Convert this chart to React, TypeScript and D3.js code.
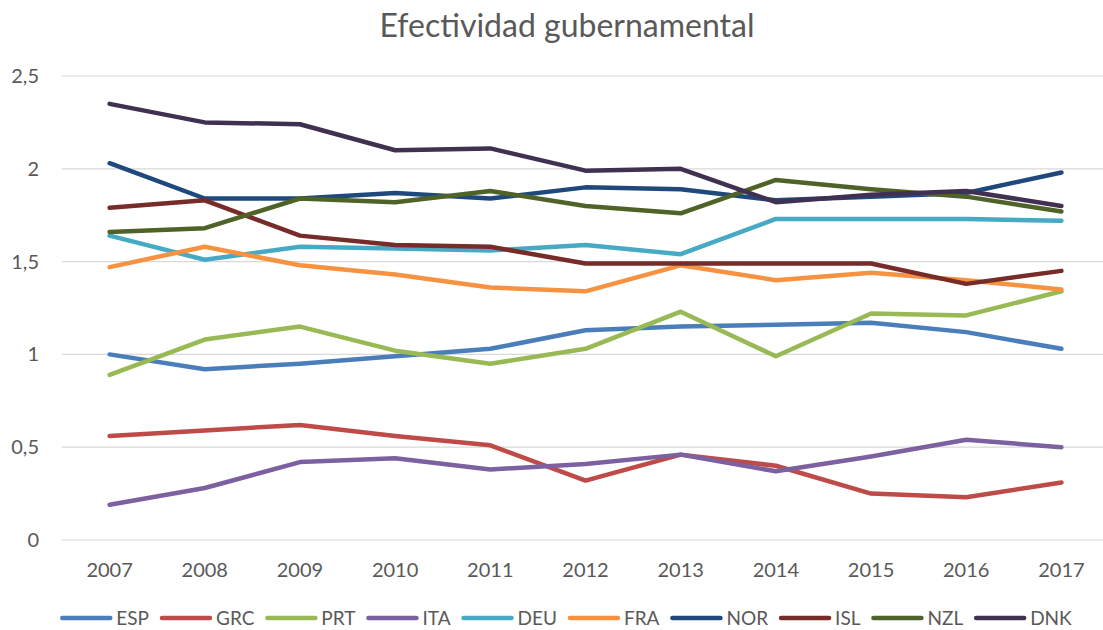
import * as d3 from 'd3';
import React, { useEffect, useRef } from 'react';

// Efectividad gubernamental, 2007-2017
const years = ['2007', '2008', '2009', '2010', '2011', '2012', '2013', '2014', '2015', '2016', '2017'];
const yTicks = [0, 0.5, 1, 1.5, 2, 2.5];

const ESP = [1.0, 0.92, 0.95, 0.99, 1.03, 1.13, 1.15, 1.16, 1.17, 1.12, 1.03];
const GRC = [0.56, 0.59, 0.62, 0.56, 0.51, 0.32, 0.46, 0.4, 0.25, 0.23, 0.31];
const PRT = [0.89, 1.08, 1.15, 1.02, 0.95, 1.03, 1.23, 0.99, 1.22, 1.21, 1.34];
const ITA = [0.19, 0.28, 0.42, 0.44, 0.38, 0.41, 0.46, 0.37, 0.45, 0.54, 0.5];
const DEU = [1.64, 1.51, 1.58, 1.57, 1.56, 1.59, 1.54, 1.73, 1.73, 1.73, 1.72];
const FRA = [1.47, 1.58, 1.48, 1.43, 1.36, 1.34, 1.48, 1.4, 1.44, 1.4, 1.35];
const NOR = [2.03, 1.84, 1.84, 1.87, 1.84, 1.9, 1.89, 1.83, 1.85, 1.87, 1.98];
const ISL = [1.79, 1.83, 1.64, 1.59, 1.58, 1.49, 1.49, 1.49, 1.49, 1.38, 1.45];
const NZL = [1.66, 1.68, 1.84, 1.82, 1.88, 1.8, 1.76, 1.94, 1.89, 1.85, 1.77];
const DNK = [2.35, 2.25, 2.24, 2.1, 2.11, 1.99, 2.0, 1.82, 1.86, 1.88, 1.8];

const series = [
  { name: 'ESP', values: ESP, color: '#4a7ebb' },
  { name: 'GRC', values: GRC, color: '#be4b48' },
  { name: 'PRT', values: PRT, color: '#98b954' },
  { name: 'ITA', values: ITA, color: '#7d60a0' },
  { name: 'DEU', values: DEU, color: '#46aac5' },
  { name: 'FRA', values: FRA, color: '#f69240' },
  { name: 'NOR', values: NOR, color: '#1f497d' },
  { name: 'ISL', values: ISL, color: '#772c2a' },
  { name: 'NZL', values: NZL, color: '#4f6228' },
  { name: 'DNK', values: DNK, color: '#403152' },
];

const W = 1103;
const H = 630;
const FONT = 'Lato, "Open Sans", sans-serif';
const TEXT = '#595959';

export default function App() {
  const ref = useRef<SVGSVGElement>(null);

  useEffect(() => {
    document.body.style.margin = '0';
    if (!ref.current) return;
    const svg = d3.select(ref.current);
    svg.selectAll('*').remove();

    const x = d3.scaleBand().domain(years).range([62, 1109]);
    const y = d3.scaleLinear().domain([0, 2.5]).range([540, 76]);
    const cx = (yr: string) => (x(yr) as number) + x.bandwidth() / 2;

    // title
    svg
      .append('text')
      .attr('x', 567)
      .attr('y', 37)
      .attr('text-anchor', 'middle')
      .style('font-family', FONT)
      .style('font-size', '32px')
      .style('fill', TEXT)
      .text('Efectividad gubernamental');

    // gridlines
    svg
      .append('g')
      .selectAll('line')
      .data(yTicks)
      .enter()
      .append('line')
      .attr('x1', 62)
      .attr('x2', W)
      .attr('y1', d => y(d))
      .attr('y2', d => y(d))
      .attr('stroke', '#d9d9d9')
      .attr('stroke-width', 1.2);

    // y labels
    svg
      .append('g')
      .selectAll('text')
      .data(yTicks)
      .enter()
      .append('text')
      .attr('x', 39)
      .attr('y', d => y(d))
      .attr('dy', '0.35em')
      .attr('text-anchor', 'end')
      .style('font-family', FONT)
      .style('font-size', '20px')
      .style('fill', TEXT)
      .text(d => String(d).replace('.', ','));

    // x labels
    svg
      .append('g')
      .selectAll('text')
      .data(years)
      .enter()
      .append('text')
      .attr('x', d => cx(d))
      .attr('y', 570)
      .attr('dy', '0.35em')
      .attr('text-anchor', 'middle')
      .style('font-family', FONT)
      .style('font-size', '20px')
      .style('fill', TEXT)
      .text(d => d);

    // lines
    const line = d3
      .line<number>()
      .x((d, i) => cx(years[i]))
      .y(d => y(d));

    series.forEach(s => {
      svg
        .append('path')
        .datum(s.values)
        .attr('fill', 'none')
        .attr('stroke', s.color)
        .attr('stroke-width', 4.5)
        .attr('stroke-linejoin', 'round')
        .attr('stroke-linecap', 'round')
        .attr('d', line);
    });

    // legend
    const legend = svg.append('g');
    let lx = 0;
    series.forEach(s => {
      const g = legend.append('g').attr('transform', `translate(${lx},0)`);
      g.append('line')
        .attr('x1', 2)
        .attr('x2', 50)
        .attr('y1', 0)
        .attr('y2', 0)
        .attr('stroke', s.color)
        .attr('stroke-width', 4.5)
        .attr('stroke-linecap', 'round');
      const t = g
        .append('text')
        .attr('x', 56)
        .attr('dy', '0.35em')
        .style('font-family', FONT)
        .style('font-size', '19px')
        .style('fill', TEXT)
        .text(s.name);
      const tw = (t.node() as SVGTextElement).getComputedTextLength();
      lx += 56 + tw + 11;
    });
    const total = lx - 11;
    legend.attr('transform', `translate(${566 - total / 2},618)`);
  }, []);

  return <svg ref={ref} width={W} height={H} style={{ display: 'block', background: '#fff' }} />;
}
